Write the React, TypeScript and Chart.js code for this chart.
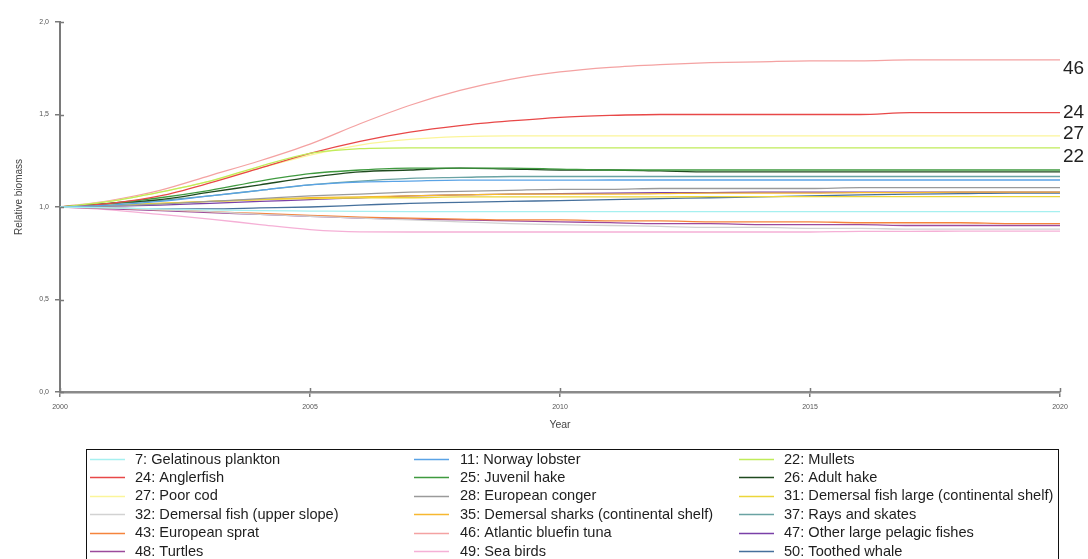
import React, { useEffect, useRef } from "react";
import { Chart, registerables } from "chart.js";

Chart.register(...registerables);

// ---------- data ----------
const years = [2000, 2001, 2002, 2003, 2004, 2005, 2006, 2007, 2008, 2009, 2010, 2011, 2012, 2013, 2014, 2015, 2016, 2017, 2018, 2019, 2020];

const s7 = [1.0, 0.995, 0.99, 0.985, 0.98, 0.978, 0.976, 0.975, 0.975, 0.975, 0.975, 0.975, 0.975, 0.975, 0.975, 0.975, 0.975, 0.975, 0.975, 0.975, 0.975];
const s11 = [1.0, 1.01, 1.03, 1.06, 1.09, 1.12, 1.135, 1.14, 1.145, 1.145, 1.145, 1.146, 1.146, 1.146, 1.146, 1.146, 1.146, 1.146, 1.146, 1.146, 1.146];
const s22 = [1.0, 1.03, 1.08, 1.14, 1.22, 1.29, 1.315, 1.32, 1.32, 1.32, 1.32, 1.32, 1.32, 1.32, 1.32, 1.32, 1.32, 1.32, 1.32, 1.32, 1.32];
const s24 = [1.0, 1.02, 1.06, 1.13, 1.21, 1.29, 1.355, 1.405, 1.44, 1.465, 1.485, 1.495, 1.5, 1.5, 1.5, 1.5, 1.5, 1.51, 1.51, 1.51, 1.51];
const s25 = [1.0, 1.02, 1.05, 1.09, 1.14, 1.18, 1.2, 1.21, 1.21, 1.21, 1.205, 1.2, 1.2, 1.2, 1.2, 1.2, 1.2, 1.2, 1.2, 1.2, 1.2];
const s26 = [1.0, 1.02, 1.04, 1.08, 1.12, 1.16, 1.19, 1.2, 1.21, 1.205, 1.2, 1.2, 1.195, 1.19, 1.19, 1.19, 1.19, 1.19, 1.19, 1.19, 1.19];
const s27 = [1.0, 1.03, 1.08, 1.14, 1.21, 1.28, 1.335, 1.365, 1.38, 1.385, 1.385, 1.385, 1.385, 1.385, 1.385, 1.385, 1.385, 1.385, 1.385, 1.385, 1.385];
const s28 = [1.0, 1.005, 1.015, 1.03, 1.045, 1.06, 1.07, 1.08, 1.085, 1.09, 1.095, 1.095, 1.1, 1.1, 1.1, 1.1, 1.105, 1.105, 1.105, 1.105, 1.105];
const s31 = [1.0, 1.01, 1.02, 1.03, 1.04, 1.045, 1.05, 1.05, 1.055, 1.055, 1.055, 1.055, 1.055, 1.056, 1.056, 1.056, 1.056, 1.056, 1.056, 1.056, 1.056];
const s32 = [1.0, 0.995, 0.985, 0.975, 0.96, 0.95, 0.94, 0.93, 0.92, 0.91, 0.905, 0.9, 0.895, 0.89, 0.89, 0.885, 0.885, 0.88, 0.88, 0.88, 0.88];
const s35 = [1.0, 1.01, 1.02, 1.03, 1.04, 1.05, 1.055, 1.06, 1.065, 1.07, 1.07, 1.07, 1.072, 1.075, 1.075, 1.075, 1.078, 1.078, 1.08, 1.08, 1.08];
const s37 = [1.0, 1.015, 1.035, 1.06, 1.09, 1.12, 1.14, 1.155, 1.16, 1.165, 1.165, 1.165, 1.165, 1.165, 1.165, 1.165, 1.165, 1.165, 1.165, 1.165, 1.165];
const s43 = [1.0, 0.995, 0.985, 0.975, 0.965, 0.955, 0.945, 0.94, 0.935, 0.93, 0.93, 0.925, 0.925, 0.92, 0.92, 0.92, 0.915, 0.915, 0.915, 0.91, 0.91];
const s46 = [1.0, 1.035, 1.09, 1.17, 1.25, 1.34, 1.45, 1.55, 1.63, 1.69, 1.73, 1.755, 1.77, 1.78, 1.785, 1.79, 1.79, 1.795, 1.795, 1.795, 1.795];
const s47 = [1.0, 1.005, 1.01, 1.02, 1.03, 1.04, 1.05, 1.06, 1.065, 1.07, 1.072, 1.075, 1.077, 1.078, 1.08, 1.08, 1.08, 1.08, 1.08, 1.08, 1.08];
const s48 = [1.0, 0.99, 0.98, 0.97, 0.96, 0.95, 0.94, 0.935, 0.93, 0.925, 0.92, 0.915, 0.91, 0.91, 0.905, 0.905, 0.905, 0.9, 0.9, 0.9, 0.9];
const s49 = [1.0, 0.985, 0.96, 0.935, 0.905, 0.878, 0.866, 0.865, 0.865, 0.865, 0.865, 0.865, 0.865, 0.865, 0.865, 0.865, 0.868, 0.868, 0.87, 0.87, 0.87];
const s50 = [1.0, 0.995, 0.99, 0.99, 0.995, 1.0, 1.01, 1.02, 1.025, 1.03, 1.035, 1.04, 1.045, 1.05, 1.055, 1.06, 1.065, 1.07, 1.072, 1.075, 1.075];

// legend order (row-major, 3 columns)
const groupIds = [7, 11, 22, 24, 25, 26, 27, 28, 31, 32, 35, 37, 43, 46, 47, 48, 49, 50];
const groupNames = [
  "Gelatinous plankton", "Norway lobster", "Mullets",
  "Anglerfish", "Juvenil hake", "Adult hake",
  "Poor cod", "European conger", "Demersal fish large (continental shelf)",
  "Demersal fish (upper slope)", "Demersal sharks (continental shelf)", "Rays and skates",
  "European sprat", "Atlantic bluefin tuna", "Other large pelagic fishes",
  "Turtles", "Sea birds", "Toothed whale",
];
const groupValues = [s7, s11, s22, s24, s25, s26, s27, s28, s31, s32, s35, s37, s43, s46, s47, s48, s49, s50];
const groupColors = [
  "#a6f0f0", "#5aa3e6", "#c0ec5a",
  "#e84848", "#3f9a3f", "#1f4a1f",
  "#fbf59a", "#9a9a9a", "#ecd63a",
  "#d2d2d2", "#f7b830", "#6aa3a3",
  "#f5843c", "#f4a2a2", "#7a40a8",
  "#9c4a9c", "#f5b0d6", "#46709c",
];
const labelledIds = [46, 24, 27, 22];
const labelOffsets = [9, 0, -2, 9];

const yTicks = [0, 0.5, 1.0, 1.5, 2.0];
const xTicks = [2000, 2005, 2010, 2015, 2020];

const FONT = "'Liberation Sans', Arial, sans-serif";

export default function App() {
  const ref = useRef<HTMLCanvasElement | null>(null);

  useEffect(() => {
    const canvas = ref.current;
    if (!canvas) return;

    const datasets = groupIds.map((id, i) => ({
      label: `${id}: ${groupNames[i]}`,
      data: years.map((yr, j) => ({ x: yr, y: groupValues[i][j] })),
      borderColor: groupColors[i],
      backgroundColor: groupColors[i],
      borderWidth: 1.3,
      pointRadius: 0,
      cubicInterpolationMode: "monotone" as const,
      fill: false,
    }));

    const extras = {
      id: "extras",
      afterDraw(chart: any) {
        const ctx = chart.ctx;
        const xs = chart.scales.x;
        const ys = chart.scales.y;
        const area = chart.chartArea;
        ctx.save();
        // inward tick marks (crosses)
        ctx.strokeStyle = "#7a7a7a";
        ctx.lineWidth = 1.5;
        yTicks.forEach((v) => {
          const py = Math.round(ys.getPixelForValue(v)) + 0.5;
          ctx.beginPath();
          ctx.moveTo(area.left, py);
          ctx.lineTo(area.left + 4, py);
          ctx.stroke();
        });
        xTicks.forEach((v) => {
          const px = Math.round(xs.getPixelForValue(v)) + 0.5;
          ctx.beginPath();
          ctx.moveTo(px, area.bottom);
          ctx.lineTo(px, area.bottom - 4);
          ctx.stroke();
        });
        // y-axis title
        ctx.save();
        ctx.translate(19, 197);
        ctx.rotate(-Math.PI / 2);
        ctx.fillStyle = "#444";
        ctx.font = `10px ${FONT}`;
        ctx.textAlign = "center";
        ctx.textBaseline = "middle";
        ctx.fillText("Relative biomass", 0, 0);
        ctx.restore();
        // right-side series labels
        ctx.fillStyle = "#222";
        ctx.font = `19px ${FONT}`;
        ctx.textAlign = "left";
        ctx.textBaseline = "middle";
        labelledIds.forEach((id, k) => {
          const idx = groupIds.indexOf(id);
          const vals = groupValues[idx];
          const py = ys.getPixelForValue(vals[vals.length - 1]) + labelOffsets[k];
          ctx.fillText(String(id), area.right + 3, py);
        });
        // legend box
        const boxL = 86.5, boxT = 449.5, boxR = 1058.5, boxB = 570;
        ctx.strokeStyle = "#111";
        ctx.lineWidth = 1;
        ctx.strokeRect(boxL, boxT, boxR - boxL, boxB - boxT);
        const colLine = [90, 414, 739];
        const colText = [135, 460, 784];
        const rowY0 = 459, rowStep = 18.4;
        ctx.font = `14.6px ${FONT}`;
        ctx.textBaseline = "middle";
        groupIds.forEach((id, i) => {
          const c = i % 3;
          const r = Math.floor(i / 3);
          const y = rowY0 + r * rowStep;
          ctx.strokeStyle = groupColors[i];
          ctx.lineWidth = 1.6;
          ctx.beginPath();
          ctx.moveTo(colLine[c], Math.round(y) + 0.5);
          ctx.lineTo(colLine[c] + 35, Math.round(y) + 0.5);
          ctx.stroke();
          ctx.fillStyle = "#1e1e1e";
          ctx.fillText(`${id}: ${groupNames[i]}`, colText[c], y + 0.5);
        });
        ctx.restore();
      },
    };

    const chart = new Chart(canvas, {
      type: "line",
      data: { datasets },
      options: {
        animation: false,
        responsive: false,
        maintainAspectRatio: false,
        layout: { padding: { left: 0, top: 22, right: 28, bottom: 122 } },
        plugins: {
          legend: { display: false },
          tooltip: { enabled: false },
        },
        scales: {
          x: {
            type: "linear",
            min: 2000,
            max: 2020,
            afterFit: (s: any) => { s.height = 45; },
            afterBuildTicks: (s: any) => { s.ticks = xTicks.map((v) => ({ value: v })); },
            ticks: {
              color: "#555",
              font: { size: 7, family: FONT },
              padding: 6,
              maxRotation: 0,
              callback: (v: any) => String(v),
            },
            grid: { drawOnChartArea: false, tickLength: 5, color: "#7a7a7a", lineWidth: 1.5 },
            border: { display: true, color: "#8a8a8a", width: 2.5 },
            title: { display: true, text: "Year", color: "#444", font: { size: 10.5, family: FONT }, padding: { top: 0, bottom: 6 } },
          },
          y: {
            type: "linear",
            min: 0,
            max: 2,
            afterFit: (s: any) => { s.width = 60; },
            afterBuildTicks: (s: any) => { s.ticks = yTicks.map((v) => ({ value: v })); },
            ticks: {
              color: "#555",
              font: { size: 7, family: FONT },
              padding: 6,
              callback: (v: any) => Number(v).toFixed(1).replace(".", ","),
            },
            grid: { drawOnChartArea: false, tickLength: 5, color: "#7a7a7a", lineWidth: 1.5 },
            border: { display: true, color: "#7a7a7a", width: 2 },
            title: { display: false },
          },
        },
      },
      plugins: [extras],
    });

    return () => chart.destroy();
  }, []);

  return (
    <div style={{ position: "absolute", left: 0, top: 0, width: 1088, height: 559, background: "#fff" }}>
      <canvas ref={ref} width={1088} height={559} style={{ display: "block", width: 1088, height: 559 }} />
    </div>
  );
}
